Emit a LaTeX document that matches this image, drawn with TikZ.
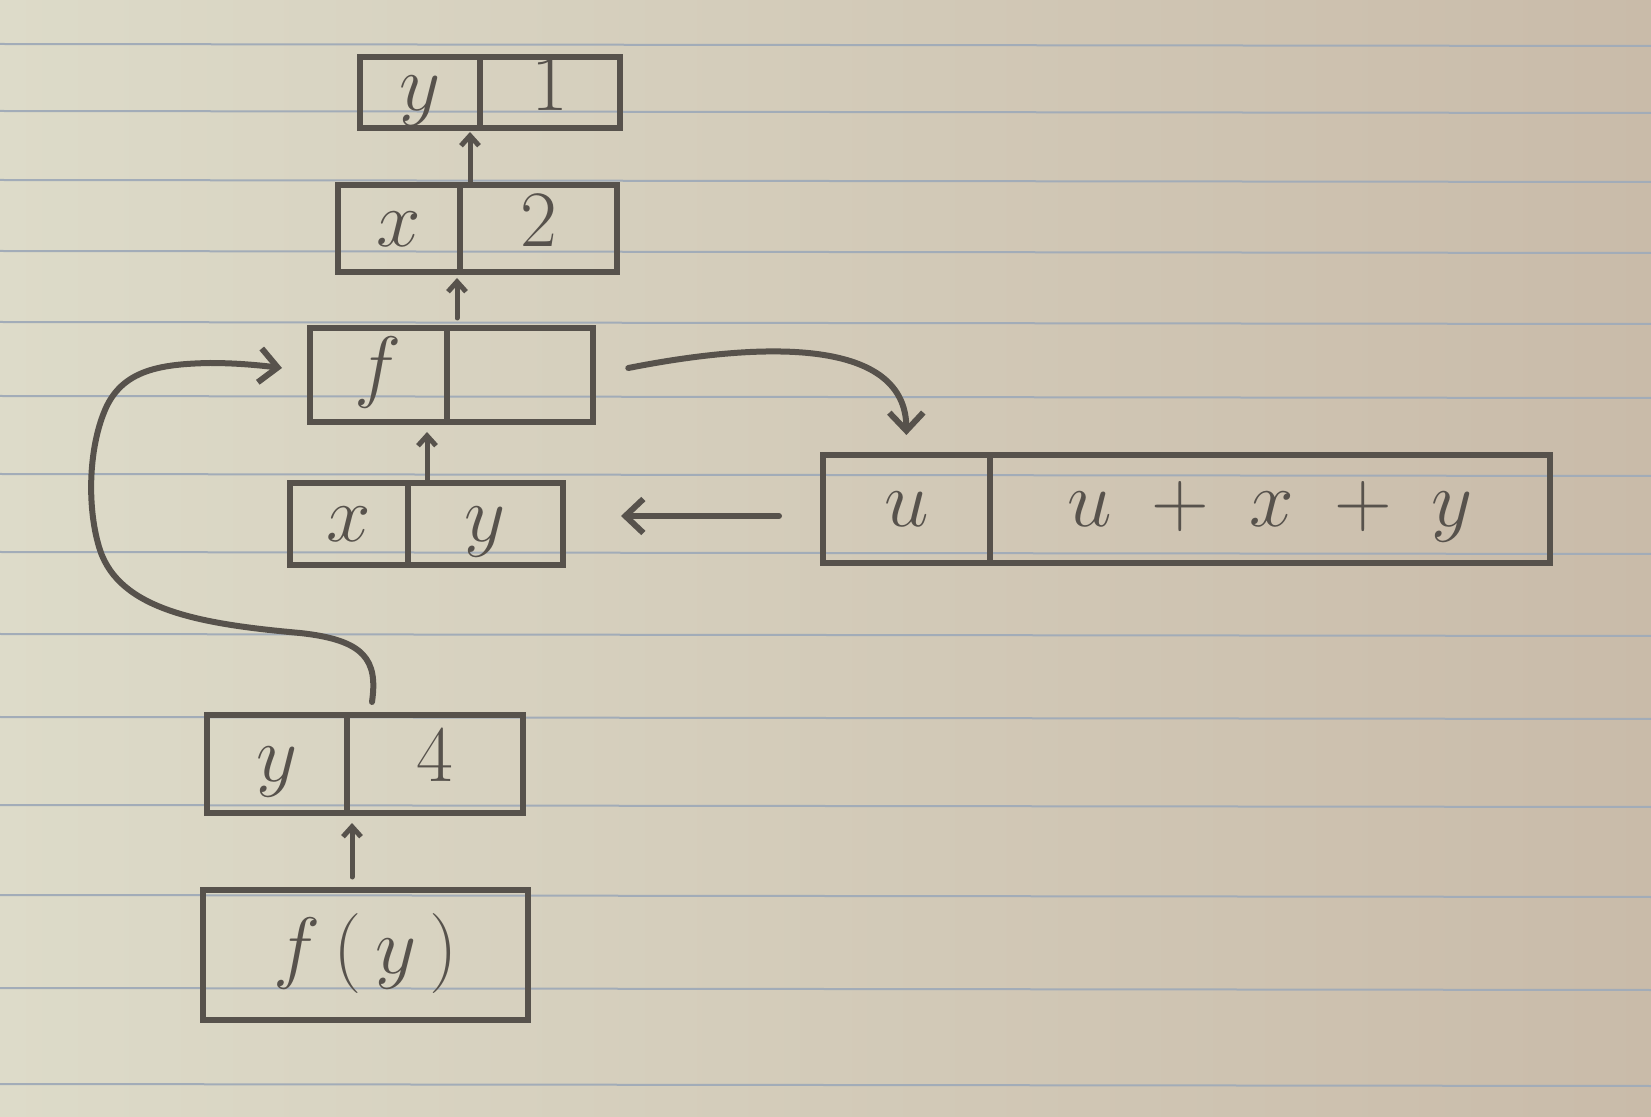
\RequirePackage{fix-cm}
\documentclass[tikz,border=0pt]{standalone}
\usetikzlibrary{arrows.meta,calc}
\definecolor{ink}{HTML}{57524C}
\definecolor{rulecol}{HTML}{A2ACB8}
\definecolor{paperL}{HTML}{DDDBC9}
\definecolor{paperR}{HTML}{C9BBA9}
\begin{document}
\begin{tikzpicture}[x=0.5pt,y=-0.5pt,
  cell/.style={draw=ink, line width=3pt, inner sep=0pt, outer sep=0pt, anchor=north west,
    text=ink, font=\fontsize{40}{48}\selectfont, text height=18pt, text depth=0pt},
  up/.style={draw=ink, line width=2.5pt, line cap=round, -{Straight Barb[length=5pt,width=9pt]}},
  big/.style={draw=ink, line width=3pt, line cap=round, -{Straight Barb[length=9pt,width=17pt]}},
  ruleline/.style={draw=rulecol, line width=1pt}]
\useasboundingbox (0,0) rectangle (1651,1117);
\shade[left color=paperL, right color=paperR] (0,0) rectangle (1651,1117);
\foreach \yy in {44,111,180,251,322,396,474,552,634,717,805,895,988,1084}
  \draw[ruleline] (0,\yy) -- (1651,\yy+2);

% boxes
\node[cell, minimum width=60pt,  minimum height=35.5pt] (y1a) at (360,57)  {$y$};
\node[cell, minimum width=70pt,  minimum height=35.5pt] (y1b) at (480,57)  {$1$};
\node[cell, minimum width=61pt,  minimum height=43.5pt] (x2a) at (338,185) {$x$};
\node[cell, minimum width=78.5pt,minimum height=43.5pt] (x2b) at (460,185) {$2$};
\node[cell, minimum width=68.5pt,minimum height=47pt]   (fa)  at (310,328) {$f$};
\node[cell, minimum width=73pt,  minimum height=47pt]   (fb)  at (447,328) {};
\node[cell, minimum width=59pt,  minimum height=41pt]   (xya) at (290,483) {$x$};
\node[cell, minimum width=77.5pt,minimum height=41pt]   (xyb) at (408,483) {$y$};
\node[cell, minimum width=83.5pt,minimum height=54pt]   (ua)  at (823,455) {$u$};
\node[cell, minimum width=280pt, minimum height=54pt]   (ub)  at (990,455) {$u\;+\;x\;+\;y$};
\node[cell, minimum width=70pt,  minimum height=49pt]   (y4a) at (207,715) {$y$};
\node[cell, minimum width=88pt,  minimum height=49pt]   (y4b) at (347,715) {$4$};
\node[cell, minimum width=162.5pt,minimum height=65pt]  (fy)  at (203,890) {$f\,(\,y\,)$};

% small upward arrows
\coordinate (a1) at ($(x2b.north west)+(10,0)$);
\draw[up, shorten >=2pt] (a1) -- (a1 |- y1b.south);
\coordinate (a2) at ($(fb.north west)+(10,0)$);
\draw[up, shorten <=5pt, shorten >=3pt] (a2) -- (a2 |- x2b.south);
\coordinate (a3) at ($(xyb.north west)+(19,0)$);
\draw[up, shorten >=5pt] (a3) -- (a3 |- fb.south);
\coordinate (a4) at ($(fy.north west)+(149,0)$);
\draw[up, shorten <=6.5pt, shorten >=5pt] (a4) -- (a4 |- y4b.south);

% long curved arrow from y|4 to f
\coordinate (c0) at ($(y4b.north west)+(25,-13)$);
\coordinate (c1) at ($(fa.west)+(-28,-7)$);
\draw[big] (c0) .. controls (378,660) and (365,640) .. (300,633)
  .. controls (200,624) and (120,610) .. (100,550)
  .. controls (87,510) and (88,450) .. (105,410)
  .. controls (122,370) and (160,364) .. (210,363)
  .. controls (240,363) and (265,366) .. (c1);

% f -> u arrow
\draw[big, shorten <=18pt, shorten >=10pt] (fb.east) .. controls (770,340) and (906,340) .. (ua.north);

% u -> x|y arrow
\draw[big] ($(ua.west)+(-44,7)$) -- ($(xyb.east)+(58,-8)$);
\end{tikzpicture}
\end{document}
